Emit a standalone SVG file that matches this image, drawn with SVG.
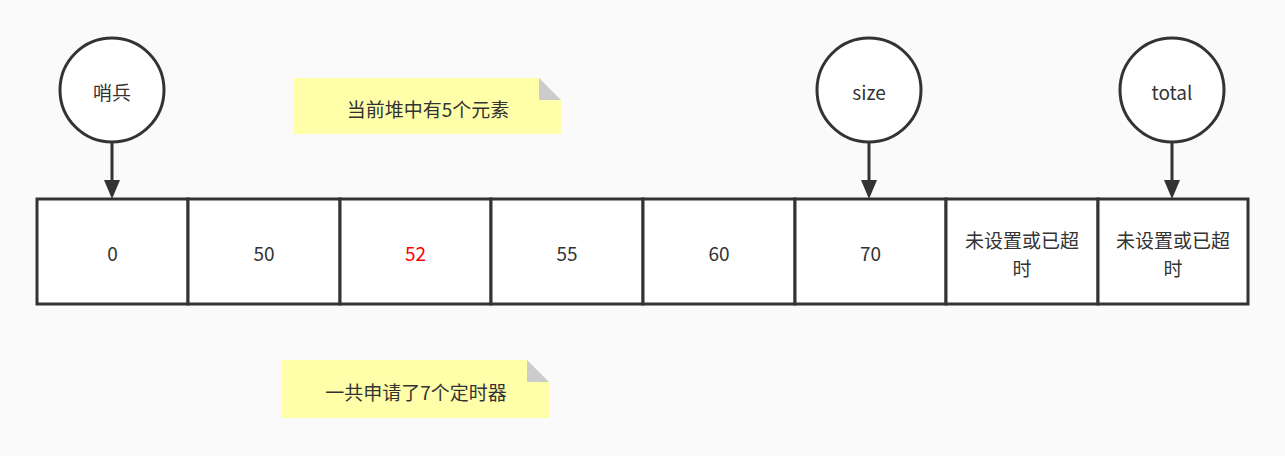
<svg xmlns="http://www.w3.org/2000/svg" width="1285" height="456" viewBox="0 0 1285 456">
<style>
text{font-family:"Noto Sans CJK SC","Noto Sans",sans-serif;font-size:19px;fill:#333;text-anchor:middle;dominant-baseline:central}
.cell{fill:#fff;stroke:#333;stroke-width:3}
.circ{fill:#fff;stroke:#333;stroke-width:3}
.note{fill:#ffffaa}
.fold{fill:#cccccc}
.conn{stroke:#333;stroke-width:3;fill:none}
.head{fill:#333}
</style>
<rect width="1285" height="456" fill="#fafafa"/>
<g id="note1">
<path class="note" d="M294,78 H539 L561,100 V134 H294 Z"/>
<path class="fold" d="M539,78 V100 H561 Z"/>
<text x="428" y="108">当前堆中有5个元素</text>
</g>
<g id="note2">
<path class="note" d="M282,360 H527 L549,382 V418 H282 Z"/>
<path class="fold" d="M527,360 V382 H549 Z"/>
<text x="416" y="391">一共申请了7个定时器</text>
</g>
<g id="cell0"><rect class="cell" x="37" y="199" width="151" height="105"/><text x="112.5" y="252">0</text></g>
<g id="cell1"><rect class="cell" x="188" y="199" width="152" height="105"/><text x="264" y="252">50</text></g>
<g id="cell2"><rect class="cell" x="340" y="199" width="151" height="105"/><text x="415.5" y="252" style="fill:#ff0000">52</text></g>
<g id="cell3"><rect class="cell" x="491" y="199" width="152" height="105"/><text x="567" y="252">55</text></g>
<g id="cell4"><rect class="cell" x="643" y="199" width="152" height="105"/><text x="719" y="252">60</text></g>
<g id="cell5"><rect class="cell" x="795" y="199" width="151" height="105"/><text x="870.5" y="252">70</text></g>
<g id="cell6"><rect class="cell" x="946" y="199" width="152" height="105"/><text x="1022" y="239">未设置或已超</text><text x="1022" y="267">时</text></g>
<g id="cell7"><rect class="cell" x="1098" y="199" width="150" height="105"/><text x="1173" y="239">未设置或已超</text><text x="1173" y="267">时</text></g>
<g id="sentinel"><circle class="circ" cx="112" cy="90" r="52"/><text x="112" y="91">哨兵</text></g>
<g id="size"><circle class="circ" cx="869" cy="90" r="52"/><text x="869" y="91">size</text></g>
<g id="total"><circle class="circ" cx="1172" cy="90" r="52"/><text x="1172" y="91">total</text></g>
<g id="connectors">
<line class="conn" x1="112" y1="142" x2="112" y2="182"/>
<path class="head" d="M104,180 L120,180 L112,199 Z"/>
<line class="conn" x1="869" y1="142" x2="869" y2="182"/>
<path class="head" d="M861,180 L877,180 L869,199 Z"/>
<line class="conn" x1="1172" y1="142" x2="1172" y2="182"/>
<path class="head" d="M1164,180 L1180,180 L1172,199 Z"/>
</g>
</svg>
